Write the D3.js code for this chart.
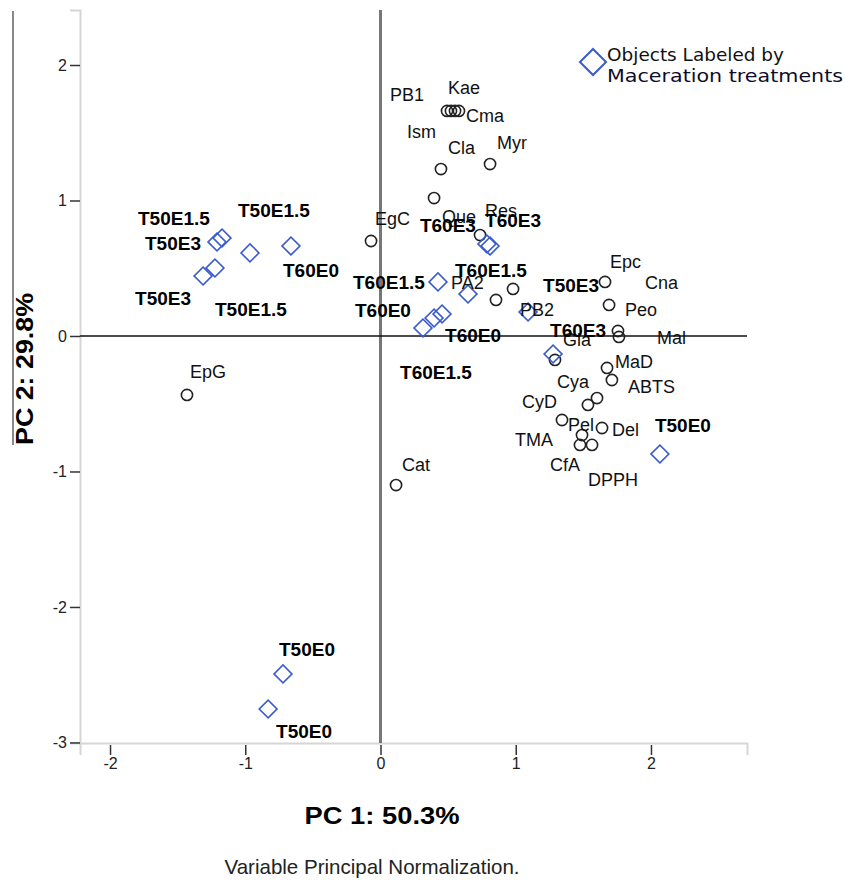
<!DOCTYPE html>
<html><head><meta charset="utf-8">
<script src="https://cdn.jsdelivr.net/npm/d3@7"></script>
<style>
html,body{margin:0;padding:0;background:#fff;}
svg{display:block;}
</style>
</head><body>
<svg id="chart" width="845" height="881"></svg>
<script>
// ---------- DATA ----------
const varNames = ["EpG","Cat","EgC","PB1","Ism","Kae","Cma","Cla","Myr","Que","Res","PA2","PB2",
  "Epc","Peo","Cna","Mal","Gla","MaD","ABTS","Cya","CyD","Pel","Del","TMA","CfA","DPPH"];
const varPC1 = [-1.431,0.115,-0.070,0.492,0.521,0.551,0.580,0.447,0.810,0.396,0.736,0.854,0.980,
  1.660,1.690,1.756,1.763,1.290,1.675,1.711,1.601,1.534,1.342,1.638,1.490,1.475,1.564];
const varPC2 = [-0.435,-1.100,0.701,1.661,1.661,1.661,1.661,1.232,1.269,1.018,0.745,0.266,0.347,
  0.399,0.229,0.037,-0.007,-0.177,-0.236,-0.325,-0.458,-0.509,-0.620,-0.679,-0.731,-0.804,-0.804];

const objNames = ["T50E1.5","T50E3","T50E1.5","T60E0","T50E3","T50E1.5",
  "T50E0","T50E0","T50E0",
  "T60E1.5","T60E1.5","T60E0","T60E0","T60E1.5","T50E3","T60E3","T60E3","T60E3"];
const objPC1 = [-1.172,-1.209,-0.965,-0.662,-1.312,-1.224,
  -0.721,-0.831,2.066,
  0.425,0.647,0.314,0.396,0.455,1.091,1.276,0.787,0.810];
const objPC2 = [0.723,0.694,0.613,0.664,0.443,0.502,
  -2.494,-2.753,-0.871,
  0.399,0.310,0.059,0.133,0.162,0.177,-0.133,0.679,0.664];

const xTicks = [-2,-1,0,1,2];
const yTicks = [-3,-2,-1,0,1,2];
const xTitle = "PC 1: 50.3%";
const yTitle = "PC 2: 29.8%";
const footnote = "Variable Principal Normalization.";
const legendLines = ["Objects Labeled by","Maceration treatments"];

// ---------- LAYOUT (label placement offsets, px) ----------
const varLabelOff = [[3,-17],[6,-14],[4,-16],[-57,-10],[-44,27],[-7,-17],[7,11],[7,-15],[7,-15],[8,25],[5,-18],[-45,-11],[7,27],
  [5,-14],[16,11],[27,-42],[38,7],[8,-14],[8,0],[16,13],[-40,-10],[-66,3],[6,11],[10,8],[-67,11],[-30,26],[-4,41]];
const objLabelOff = [[-84,-13],[-72,8],[-12,-36],[-8,31],[-68,29],[0,48],
  [-4,-18],[8,29],[-5,-22],
  [-85,7],[-13,-17],[-68,-11],[11,24],[-42,65],[15,-20],[-3,-17],[-67,-12],[-5,-19]];

// ---------- DRAW ----------
(function(){
const svg = d3.select("#chart");
const pLeft = 80, pRight = 747, pTop = 10, pBottom = 743;
const x = d3.scaleLinear().domain([-2.222, 2.710]).range([pLeft, pRight]);
const y = d3.scaleLinear().domain([-3.004, 2.406]).range([pBottom, pTop]);
const blue = "#3a5bcf";
const font = "'Liberation Sans', Arial, sans-serif";
const fmt = d => String(d);

// stray frame line at far left
svg.append("line").attr("x1",13).attr("x2",13).attr("y1",11).attr("y2",445)
  .attr("stroke","#8a8a8a").attr("stroke-width",2);

// axes
const xAxis = svg.append("g").attr("transform",`translate(0,${pBottom})`)
  .call(d3.axisBottom(x).tickValues(xTicks).tickFormat(fmt).tickSize(12).tickPadding(3));
const yAxis = svg.append("g").attr("transform",`translate(${pLeft},0)`)
  .call(d3.axisLeft(y).tickValues(yTicks).tickFormat(fmt).tickSize(10).tickPadding(3));
[xAxis,yAxis].forEach(g=>{
  g.select(".domain").attr("stroke","#d6d6d6").attr("stroke-width",2);
  g.selectAll(".tick line").attr("stroke","#333").attr("stroke-width",1.5);
  g.selectAll(".tick text").attr("fill","#222").attr("font-family",font).attr("font-size",16);
});
xAxis.selectAll(".tick line").attr("y1",2);

// reference lines
svg.append("line").attr("x1",x(0)).attr("x2",x(0)).attr("y1",pTop).attr("y2",pBottom)
  .attr("stroke","#777").attr("stroke-width",3);
svg.append("line").attr("x1",pLeft).attr("x2",pRight).attr("y1",y(0)).attr("y2",y(0))
  .attr("stroke","#111").attr("stroke-width",1.5);

const vars = varNames.map((n,i)=>({name:n, px:varPC1[i], py:varPC2[i], off:varLabelOff[i]}));
const objs = objNames.map((n,i)=>({name:n, px:objPC1[i], py:objPC2[i], off:objLabelOff[i]}));

svg.append("g").selectAll("circle").data(vars).join("circle")
  .attr("cx",d=>x(d.px)).attr("cy",d=>y(d.py)).attr("r",5.6)
  .attr("fill","none").attr("stroke","#222").attr("stroke-width",1.6);

const diamond = d3.symbol().type(d3.symbolSquare).size(160);
svg.append("g").selectAll("path").data(objs).join("path")
  .attr("d",diamond)
  .attr("transform",d=>`translate(${x(d.px)},${y(d.py)}) rotate(45)`)
  .attr("fill","none").attr("stroke",blue).attr("stroke-width",1.6);

svg.append("g").selectAll("text").data(vars).join("text")
  .attr("x",d=>x(d.px)+d.off[0]).attr("y",d=>y(d.py)+d.off[1])
  .attr("font-family",font).attr("font-size",18).attr("fill","#111")
  .text(d=>d.name);

svg.append("g").selectAll("text").data(objs).join("text")
  .attr("x",d=>x(d.px)+d.off[0]).attr("y",d=>y(d.py)+d.off[1])
  .attr("font-family",font).attr("font-size",19).attr("font-weight","bold").attr("fill","#000")
  .text(d=>d.name);

// legend
svg.append("path").attr("d",d3.symbol().type(d3.symbolSquare).size(340)())
  .attr("transform","translate(593,62) rotate(45)")
  .attr("fill","none").attr("stroke",blue).attr("stroke-width",2);
svg.append("text").attr("x",607).attr("y",61).attr("font-family","'DejaVu Sans', Verdana, sans-serif")
  .attr("font-size",17).attr("fill","#111").attr("textLength",177).attr("lengthAdjust","spacingAndGlyphs")
  .text(legendLines[0]);
svg.append("text").attr("x",607).attr("y",82).attr("font-family","'DejaVu Sans', Verdana, sans-serif")
  .attr("font-size",17).attr("fill","#0d0d2a").attr("textLength",236).attr("lengthAdjust","spacingAndGlyphs")
  .text(legendLines[1]);

// titles
svg.append("text").attr("x",382).attr("y",824).attr("text-anchor","middle")
  .attr("font-family",font).attr("font-size",24).attr("font-weight","bold")
  .attr("textLength",155).attr("lengthAdjust","spacingAndGlyphs").text(xTitle);
svg.append("text").attr("transform","translate(33,369) rotate(-90)").attr("text-anchor","middle")
  .attr("font-family",font).attr("font-size",24).attr("font-weight","bold")
  .attr("textLength",152).attr("lengthAdjust","spacingAndGlyphs").text(yTitle);
svg.append("text").attr("x",372).attr("y",874).attr("text-anchor","middle")
  .attr("font-family",font).attr("font-size",21).attr("fill","#222")
  .attr("textLength",295).attr("lengthAdjust","spacingAndGlyphs").text(footnote);
})();
</script>
</body></html>
